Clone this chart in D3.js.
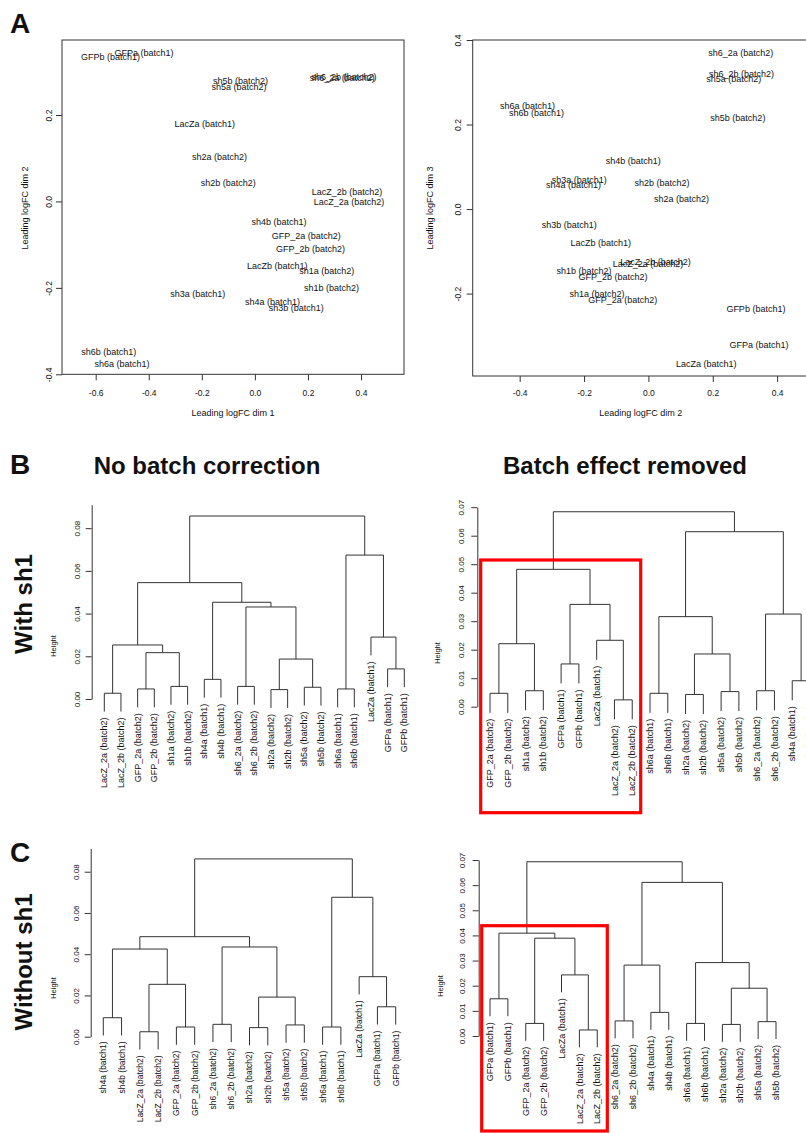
<!doctype html>
<meta charset="utf-8">
<title>MDS and clustering</title>
<script src="https://cdn.jsdelivr.net/npm/d3@7"></script>
<style>
  body { margin: 0; background: #fff; }
  text { font-family: "Liberation Sans", Arial, sans-serif; fill: #111; }
</style>
<body>

<script>
// ---- panel A: MDS coordinates (same sample order in every array)
var mdsLabels = ["GFPa (batch1)", "GFPb (batch1)", "sh5a (batch2)", "sh5b (batch2)", "sh6_2a (batch2)",
  "sh6_2b (batch2)", "LacZa (batch1)", "sh2a (batch2)", "sh2b (batch2)", "LacZ_2b (batch2)",
  "LacZ_2a (batch2)", "sh4b (batch1)", "GFP_2a (batch2)", "GFP_2b (batch2)", "LacZb (batch1)",
  "sh1a (batch2)", "sh1b (batch2)", "sh3a (batch1)", "sh4a (batch1)", "sh3b (batch1)",
  "sh6b (batch1)", "sh6a (batch1)"];
var dim1 = [-0.418, -0.544, -0.060, -0.054, 0.329, 0.336, -0.189, -0.133, -0.100, 0.347, 0.355,
  0.091, 0.194, 0.210, 0.084, 0.271, 0.289, -0.215, 0.066, 0.156, -0.551, -0.501];
var dim2 = [0.344, 0.334, 0.265, 0.278, 0.287, 0.289, 0.180, 0.103, 0.042, 0.022, -0.001,
  -0.047, -0.080, -0.110, -0.148, -0.160, -0.200, -0.215, -0.233, -0.246, -0.348, -0.376];
var dim3 = [-0.322, -0.237, 0.308, 0.215, 0.370, 0.321, -0.367, 0.023, 0.062, -0.125, -0.129,
  0.114, -0.214, -0.160, -0.079, -0.201, -0.146, 0.069, 0.057, -0.038, 0.228, 0.244];
var ticksDim1 = [-0.6, -0.4, -0.2, 0.0, 0.2, 0.4];
var ticksDim2y = [-0.4, -0.2, 0.0, 0.2];
var ticksDim2x = [-0.4, -0.2, 0.0, 0.2, 0.4];
var ticksDim3 = [-0.2, 0.0, 0.2, 0.4];

// ---- panels B and C: hclust results, leaves in plotted order,
// merges as in R (negative = leaf number, positive = earlier merge row), last value = height
var leavesB1 = ["LacZ_2a (batch2)", "LacZ_2b (batch2)", "GFP_2a (batch2)", "GFP_2b (batch2)",
  "sh1a (batch2)", "sh1b (batch2)", "sh4a (batch1)", "sh4b (batch1)", "sh6_2a (batch2)",
  "sh6_2b (batch2)", "sh2a (batch2)", "sh2b (batch2)", "sh5a (batch2)", "sh5b (batch2)",
  "sh6a (batch1)", "sh6b (batch1)", "LacZa (batch1)", "GFPa (batch1)", "GFPb (batch1)"];
var mergesB1 = [[-1, -2, 0.0027], [-3, -4, 0.0047], [-5, -6, 0.0059], [-7, -8, 0.0092],
  [-9, -10, 0.0059], [-11, -12, 0.0044], [-13, -14, 0.0055], [-15, -16, 0.0047],
  [-18, -19, 0.0141], [6, 7, 0.0187], [2, 3, 0.0217], [1, 11, 0.0253], [-17, 9, 0.0290],
  [5, 10, 0.0431], [4, 14, 0.0453], [12, 15, 0.0545], [8, 13, 0.0674], [16, 17, 0.0857]];

var leavesB2 = ["GFP_2a (batch2)", "GFP_2b (batch2)", "sh1a (batch2)", "sh1b (batch2)",
  "GFPa (batch1)", "GFPb (batch1)", "LacZa (batch1)", "LacZ_2a (batch2)", "LacZ_2b (batch2)",
  "sh6a (batch1)", "sh6b (batch1)", "sh2a (batch2)", "sh2b (batch2)", "sh5a (batch2)",
  "sh5b (batch2)", "sh6_2a (batch2)", "sh6_2b (batch2)", "sh4a (batch1)", "sh4b (batch1)"];
var mergesB2 = [[-1, -2, 0.0047], [-3, -4, 0.0056], [-5, -6, 0.0150], [-8, -9, 0.0024],
  [-10, -11, 0.0047], [-12, -13, 0.0043], [-14, -15, 0.0053], [-16, -17, 0.0056],
  [-18, -19, 0.0091], [6, 7, 0.0185], [1, 2, 0.0221], [-7, 4, 0.0233], [3, 12, 0.0359],
  [11, 13, 0.0482], [5, 10, 0.0316], [8, 9, 0.0325], [15, 16, 0.0614], [14, 17, 0.0684]];

var leavesC1 = ["sh4a (batch1)", "sh4b (batch1)", "LacZ_2a (batch2)", "LacZ_2b (batch2)",
  "GFP_2a (batch2)", "GFP_2b (batch2)", "sh6_2a (batch2)", "sh6_2b (batch2)", "sh2a (batch2)",
  "sh2b (batch2)", "sh5a (batch2)", "sh5b (batch2)", "sh6a (batch1)", "sh6b (batch1)",
  "LacZa (batch1)", "GFPa (batch1)", "GFPb (batch1)"];
var mergesC1 = [[-1, -2, 0.0092], [-3, -4, 0.0024], [-5, -6, 0.0047], [-7, -8, 0.0060],
  [-9, -10, 0.0044], [-11, -12, 0.0057], [-13, -14, 0.0047], [-16, -17, 0.0145],
  [2, 3, 0.0254], [5, 6, 0.0192], [1, 9, 0.0425], [4, 10, 0.0435], [11, 12, 0.0485],
  [-15, 8, 0.0291], [7, 14, 0.0676], [13, 15, 0.0862]];

var leavesC2 = ["GFPa (batch1)", "GFPb (batch1)", "GFP_2a (batch2)", "GFP_2b (batch2)",
  "LacZa (batch1)", "LacZ_2a (batch2)", "LacZ_2b (batch2)", "sh6_2a (batch2)", "sh6_2b (batch2)",
  "sh4a (batch1)", "sh4b (batch1)", "sh6a (batch1)", "sh6b (batch1)", "sh2a (batch2)",
  "sh2b (batch2)", "sh5a (batch2)", "sh5b (batch2)"];
var mergesC2 = [[-1, -2, 0.0148], [-3, -4, 0.0050], [-6, -7, 0.0024], [-8, -9, 0.0060],
  [-10, -11, 0.0094], [-12, -13, 0.0050], [-14, -15, 0.0046], [-16, -17, 0.0057],
  [-5, 3, 0.0243], [2, 9, 0.0389], [1, 10, 0.0409], [4, 5, 0.0282], [7, 8, 0.0190],
  [6, 13, 0.0292], [12, 14, 0.0611], [11, 15, 0.0693]];

var ticksHeight8 = [0, 0.02, 0.04, 0.06, 0.08];
var ticksHeight7 = [0, 0.01, 0.02, 0.03, 0.04, 0.05, 0.06, 0.07];

var svg = d3.select('body').append('svg')
  .attr('width', 806)
  .attr('height', 1133);

var f1 = function(d) { return d.toFixed(1); };
var f2 = function(d) { return d.toFixed(2); };

// turn y tick labels the R way (parallel to the axis)
function rotateTicks(sel, off) {
  sel.selectAll('.tick text')
    .attr('x', 0).attr('y', -off).attr('dy', 0)
    .attr('transform', 'rotate(-90)')
    .attr('text-anchor', 'middle');
}

function mdsPanel(o) {
  var x = d3.scaleLinear().domain(o.xd).range([o.l, o.r]);
  var y = d3.scaleLinear().domain(o.yd).range([o.b, o.t]);
  var g = svg.append('g');

  g.append('g')
    .attr('transform', 'translate(0,' + o.b + ')')
    .call(d3.axisBottom(x).tickValues(o.xt).tickFormat(f1).tickSize(6).tickPadding(o.xpad))
    .attr('font-size', 8.5).attr('color', '#333')
    .call(function(a) { a.select('.domain').remove(); });
  g.append('g')
    .attr('transform', 'translate(' + o.l + ',0)')
    .call(d3.axisLeft(y).tickValues(o.yt).tickFormat(f1).tickSize(6))
    .attr('font-size', 8.5).attr('color', '#333')
    .call(function(a) { a.select('.domain').remove(); rotateTicks(a, o.ypad); });

  g.append('rect')
    .attr('x', o.l).attr('y', o.t)
    .attr('width', o.r - o.l).attr('height', o.b - o.t)
    .attr('fill', 'none').attr('stroke', '#333');

  g.selectAll('text.lab')
    .data(mdsLabels)
    .enter().append('text')
    .attr('class', 'lab')
    .attr('x', function(d, i) { return x(o.xv[i]); })
    .attr('y', function(d, i) { return y(o.yv[i]); })
    .attr('dy', '0.35em')
    .attr('text-anchor', 'middle')
    .attr('font-size', 9)
    .text(function(d) { return d; });

  g.append('text')
    .attr('x', (o.l + o.r) / 2).attr('y', 416)
    .attr('text-anchor', 'middle').attr('font-size', 9)
    .text(o.xlab);
  g.append('text')
    .attr('transform', 'translate(' + o.ylabX + ',208) rotate(-90)')
    .attr('text-anchor', 'middle').attr('font-size', 9)
    .text(o.ylab);
}

function dendro(o) {
  var x = d3.scaleLinear().domain([0, o.labels.length - 1]).range([o.x0, o.x1]);
  var y = d3.scaleLinear().domain([0, o.top]).range([o.y0, o.y1]);
  var hang = 0.1 * d3.max(o.merges, function(m) { return m[2]; });
  var nodes = [], leaves = [];
  var g = svg.append('g');

  function end(id, h) {
    if (id < 0) {
      var i = -id - 1;
      leaves.push({ i: i, yb: y(h - hang) });
      return { x: x(i), y: y(h - hang) };
    }
    return { x: nodes[id - 1].x, y: y(nodes[id - 1].h) };
  }

  o.merges.forEach(function(m) {
    var a = end(m[0], m[2]), b = end(m[1], m[2]);
    nodes.push({ x: (a.x + b.x) / 2, h: m[2] });
    g.append('path')
      .attr('d', 'M' + a.x + ',' + a.y + 'V' + y(m[2]) + 'H' + b.x + 'V' + b.y)
      .attr('fill', 'none')
      .attr('stroke', '#333');
  });

  g.selectAll('text.leaf')
    .data(leaves)
    .enter().append('text')
    .attr('class', 'leaf')
    .attr('transform', function(d) { return 'translate(' + x(d.i) + ',' + (d.yb + 6) + ') rotate(-90)'; })
    .attr('dy', '0.35em')
    .attr('text-anchor', 'end')
    .attr('font-size', o.fs)
    .text(function(d) { return o.labels[d.i]; });

  g.append('g')
    .attr('transform', 'translate(' + o.ax + ',0)')
    .call(d3.axisLeft(y).tickValues(o.ticks).tickFormat(f2).tickSize(6).tickSizeOuter(0))
    .attr('font-size', 8).attr('color', '#333')
    .call(function(a) { rotateTicks(a, o.tpad); });

  g.append('text')
    .attr('transform', 'translate(' + o.hx + ',' + o.hy + ') rotate(-90)')
    .attr('dy', '0.35em')
    .attr('text-anchor', 'middle').attr('font-size', 7.5)
    .text('Height');

  if (o.box) {
    g.append('rect')
      .attr('x', o.box[0]).attr('y', o.box[1])
      .attr('width', o.box[2] - o.box[0]).attr('height', o.box[3] - o.box[1])
      .attr('fill', 'none').attr('stroke', '#ff0000').attr('stroke-width', 3.2);
  }
}

mdsPanel({ xd: [-0.727, 0.562], yd: [-0.4, 0.3735], l: 62, r: 404, t: 40, b: 374.3,
  xt: ticksDim1, yt: ticksDim2y, xpad: 9.5, ypad: 10,
  xv: dim1, yv: dim2, xlab: 'Leading logFC dim 1', ylab: 'Leading logFC dim 2', ylabX: 28 });
mdsPanel({ xd: [-0.546, 0.499], yd: [-0.395, 0.4], l: 472.7, r: 809, t: 40, b: 376,
  xt: ticksDim2x, yt: ticksDim3, xpad: 8, ypad: 12,
  xv: dim2, yv: dim3, xlab: 'Leading logFC dim 2', ylab: 'Leading logFC dim 3', ylabX: 433 });

dendro({ labels: leavesB1, merges: mergesB1, x0: 104.3, x1: 404.3, y0: 699, y1: 504.7, top: 0.091,
  ticks: ticksHeight8, ax: 91.7, tpad: 11.5, hx: 53, hy: 646, fs: 9 });
dendro({ labels: leavesB2, merges: mergesB2, x0: 490, x1: 810, y0: 706.7, y1: 507.2, top: 0.07,
  ticks: ticksHeight7, ax: 477.3, tpad: 13.5, hx: 437, hy: 653, fs: 9,
  box: [480.7, 560, 640.7, 812.7] });
dendro({ labels: leavesC1, merges: mergesC1, x0: 103.3, x1: 395.7, y0: 1036.7, y1: 848.4, top: 0.0913,
  ticks: ticksHeight8, ax: 90.7, tpad: 12, hx: 53, hy: 988, fs: 8.5 });
dendro({ labels: leavesC2, merges: mergesC2, x0: 490, x1: 776, y0: 1036, y1: 860, top: 0.07,
  ticks: ticksHeight7, ax: 478.7, tpad: 14, hx: 440, hy: 986, fs: 9,
  box: [481.7, 925.7, 607.3, 1131] });

// panel letters and headings
var bold = [
  { t: 'A', x: 10, y: 33, s: 28 },
  { t: 'B', x: 10, y: 474, s: 28 },
  { t: 'C', x: 10, y: 862, s: 28 }
];
svg.selectAll('text.letter').data(bold).enter().append('text')
  .attr('class', 'letter')
  .attr('x', function(d) { return d.x; }).attr('y', function(d) { return d.y; })
  .attr('font-size', function(d) { return d.s; })
  .attr('font-weight', 'bold')
  .text(function(d) { return d.t; });

svg.append('text').attr('x', 207).attr('y', 474).attr('text-anchor', 'middle')
  .attr('font-size', 24).attr('font-weight', 'bold').text('No batch correction');
svg.append('text').attr('x', 625).attr('y', 474).attr('text-anchor', 'middle')
  .attr('font-size', 24).attr('font-weight', 'bold').text('Batch effect removed');

svg.append('text').attr('transform', 'translate(32,604) rotate(-90)').attr('text-anchor', 'middle')
  .attr('font-size', 24).attr('font-weight', 'bold').text('With sh1');
svg.append('text').attr('transform', 'translate(32,962) rotate(-90)').attr('text-anchor', 'middle')
  .attr('font-size', 24).attr('font-weight', 'bold').text('Without sh1');
</script>
</body>
